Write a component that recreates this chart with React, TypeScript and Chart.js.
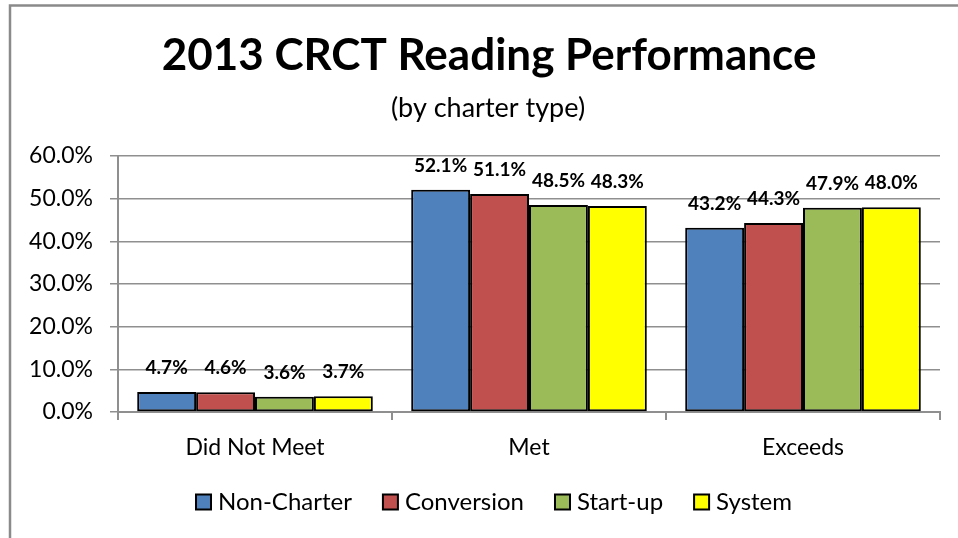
import React, { useEffect, useRef } from "react";
import { Chart, registerables } from "chart.js";

Chart.register(...registerables);

const chartTitle = "2013 CRCT Reading Performance";
const chartSubtitle = "(by charter type)";
const categories = ["Did Not Meet", "Met", "Exceeds"];
const seriesNames = ["Non-Charter", "Conversion", "Start-up", "System"];
const nonCharter = [4.7, 52.1, 43.2];
const conversion = [4.6, 51.1, 44.3];
const startUp = [3.6, 48.5, 47.9];
const systemVals = [3.7, 48.3, 48.0];
const seriesColors = ["#4F81BD", "#C0504D", "#9BBB59", "#FFFF00"];
const yMin = 0;
const yMax = 60;
const yStep = 10;

const FONT = "Lato";
const GRID = "#8f8f8f";

const frameTitlePlugin = {
  id: "frameTitle",
  beforeDraw(chart: any) {
    const ctx = chart.ctx;
    ctx.save();
    ctx.fillStyle = "#ffffff";
    ctx.fillRect(0, 0, chart.width, chart.height);
    ctx.strokeStyle = "#8a8a8a";
    ctx.lineWidth = 2.5;
    ctx.beginPath();
    ctx.moveTo(10, chart.height + 5);
    ctx.lineTo(10, 5.5);
    ctx.lineTo(chart.width + 5, 5.5);
    ctx.stroke();
    ctx.fillStyle = "#000";
    ctx.textAlign = "center";
    ctx.textBaseline = "middle";
    ctx.font = `bold 44px ${FONT}`;
    ctx.fillText(chartTitle, 489, 56);
    ctx.font = `27px ${FONT}`;
    ctx.fillText(chartSubtitle, 488, 108);
    ctx.restore();
  },
};

const labelsLegendPlugin = {
  id: "labelsLegend",
  afterDatasetsDraw(chart: any) {
    const ctx = chart.ctx;
    ctx.save();
    ctx.fillStyle = "#000";
    ctx.textAlign = "center";
    ctx.textBaseline = "middle";
    ctx.font = `bold 19px ${FONT}`;
    chart.data.datasets.forEach((ds: any, i: number) => {
      const meta = chart.getDatasetMeta(i);
      meta.data.forEach((bar: any, j: number) => {
        const v = ds.data[j] as number;
        ctx.fillText(v.toFixed(1) + "%", bar.x, bar.y - 24);
      });
    });
    // legend
    ctx.font = `24px ${FONT}`;
    ctx.textAlign = "left";
    const box = 15;
    const gapBox = 7;
    const gapItem = 31;
    const widths = chart.data.datasets.map(
      (ds: any) => box + gapBox + ctx.measureText(ds.label).width
    );
    const total =
      widths.reduce((a: number, b: number) => a + b, 0) +
      gapItem * (widths.length - 1);
    let x = 494 - total / 2;
    const cy = 502;
    chart.data.datasets.forEach((ds: any, i: number) => {
      ctx.fillStyle = ds.backgroundColor;
      ctx.fillRect(x, cy - box / 2, box, box);
      ctx.strokeStyle = "#000";
      ctx.lineWidth = 2;
      ctx.strokeRect(x, cy - box / 2, box, box);
      ctx.fillStyle = "#000";
      ctx.fillText(ds.label, x + box + gapBox, cy);
      x += widths[i] + gapItem;
    });
    ctx.restore();
  },
};

export default function App() {
  const ref = useRef<HTMLCanvasElement>(null);
  useEffect(() => {
    if (!ref.current) return;
    const series = [nonCharter, conversion, startUp, systemVals];
    const chart = new Chart(ref.current, {
      type: "bar",
      data: {
        labels: categories,
        datasets: series.map((d, i) => ({
          label: seriesNames[i],
          data: d,
          backgroundColor: seriesColors[i],
          borderColor: "#000000",
          borderWidth: 2,
          borderSkipped: false,
          categoryPercentage: 0.86,
          barPercentage: 1.0,
        })),
      },
      options: {
        responsive: false,
        animation: false,
        layout: { padding: { top: 156, right: 18, bottom: 76, left: 0 } },
        plugins: {
          legend: { display: false },
          title: { display: false },
          tooltip: { enabled: false },
        },
        scales: {
          x: {
            grid: {
              display: true,
              drawOnChartArea: false,
              drawTicks: true,
              tickLength: 8,
              color: GRID,
              lineWidth: 2,
            },
            border: { color: GRID, width: 2 },
            ticks: {
              color: "#000",
              font: { family: FONT, size: 23 },
              padding: 14,
            },
            afterFit(scale: any) {
              scale.height = 50;
            },
          },
          y: {
            min: yMin,
            max: yMax,
            ticks: {
              stepSize: yStep,
              color: "#000",
              font: { family: FONT, size: 23 },
              padding: 17,
              callback: (v: any) => Number(v).toFixed(1) + "%",
            },
            grid: {
              color: GRID,
              lineWidth: 1.5,
              tickLength: 8,
            },
            border: { color: GRID, width: 2 },
            afterFit(scale: any) {
              scale.width = 118;
            },
          },
        },
      },
      plugins: [frameTitlePlugin, labelsLegendPlugin],
    });
    return () => chart.destroy();
  }, []);
  return (
    <div style={{ position: "fixed", left: 0, top: 0, width: 958, height: 538 }}>
      <canvas ref={ref} width={958} height={538} style={{ display: "block" }} />
    </div>
  );
}
